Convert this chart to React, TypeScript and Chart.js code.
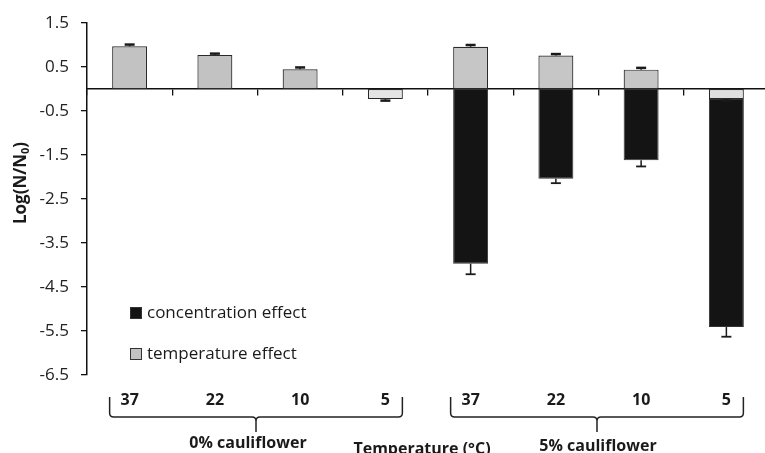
import React, { useEffect, useRef } from "react";
import { Chart, registerables } from "chart.js";

Chart.register(...registerables);

// ---- data ----
const categories = ["37", "22", "10", "5", "37", "22", "10", "5"];
const groupNames = ["0% cauliflower", "5% cauliflower"];
const xTitle = "Temperature (°C)";
const temperatureEffect = [0.97, 0.77, 0.45, -0.23, 0.96, 0.76, 0.44, -0.23];
const temperatureError = [0.04, 0.02, 0.04, 0.02, 0.04, 0.01, 0.04, 0.02];
const concentrationEffect = [null, null, null, null, -3.97, -2.04, -1.62, -5.18];
const concentrationError = [0, 0, 0, 0, 0.24, 0.1, 0.14, 0.22];
const yMin = -6.5;
const yMax = 1.5;
const yStep = 1;

const FONT = "'Open Sans', 'DejaVu Sans', sans-serif";
const grayFill = ["#c2c2c2", "#c2c2c2", "#c2c2c2", "#e4e4e4", "#c6c6c6", "#c6c6c6", "#c6c6c6", "#e0e0e0"];

const errorBars = {
  id: "errorBars",
  afterDatasetsDraw(chart: any) {
    const ctx = chart.ctx;
    const y = chart.scales.y;
    chart.data.datasets.forEach((ds: any, di: number) => {
      const errs = ds.errors;
      if (!errs) return;
      const meta = chart.getDatasetMeta(di);
      meta.data.forEach((el: any, i: number) => {
        const v = ds.data[i];
        const e = errs[i];
        if (v == null || !e) return;
        const len = Math.max(1.5, Math.abs(y.getPixelForValue(0) - y.getPixelForValue(e)));
        const dir = v >= 0 ? -1 : 1;
        const x0 = el.x;
        const y0 = el.y;
        const y1 = y0 + dir * len;
        ctx.save();
        ctx.strokeStyle = "#1a1a1a";
        ctx.lineWidth = 1.5;
        ctx.beginPath();
        ctx.moveTo(x0, y0);
        ctx.lineTo(x0, y1);
        ctx.stroke();
        ctx.lineWidth = len < 4 ? 2.5 : 1.8;
        ctx.beginPath();
        ctx.moveTo(x0 - 5, y1);
        ctx.lineTo(x0 + 5, y1);
        ctx.stroke();
        ctx.restore();
      });
    });
  },
};

const decorations = {
  id: "decorations",
  afterDraw(chart: any) {
    const ctx = chart.ctx;
    const x = chart.scales.x;
    const area = chart.chartArea;
    ctx.save();

    // y-axis title: Log(N/N0)
    ctx.fillStyle = "#1a1a1a";
    const big = `bold 17px ${FONT}`;
    const small = `bold 11px ${FONT}`;
    ctx.font = big;
    const p1 = "Log(N/N";
    const p3 = ")";
    const w1 = ctx.measureText(p1).width;
    const w3 = ctx.measureText(p3).width;
    ctx.font = small;
    const w2 = ctx.measureText("0").width;
    const total = w1 + w2 + w3;
    ctx.translate(21, 183);
    ctx.rotate(-Math.PI / 2);
    ctx.textBaseline = "middle";
    ctx.textAlign = "left";
    let cx = -total / 2;
    ctx.font = big;
    ctx.fillText(p1, cx, 0);
    cx += w1;
    ctx.font = small;
    ctx.fillText("0", cx, 5);
    cx += w2;
    ctx.font = big;
    ctx.fillText(p3, cx, 0);
    ctx.setTransform(1, 0, 0, 1, 0, 0);

    // braces and group names
    const yTop = area.bottom + 22;
    const yH = area.bottom + 42;
    const ySpike = area.bottom + 57;
    const nameOffsets = [-8, 1];
    ctx.strokeStyle = "#222";
    ctx.lineWidth = 1.5;
    groupNames.forEach((name, g) => {
      const first = g * 4;
      const last = g * 4 + 3;
      const xl = x.getPixelForValue(first) - 20;
      const xr = x.getPixelForValue(last) + 17;
      const xm = (xl + xr) / 2;
      ctx.beginPath();
      ctx.moveTo(xl, yTop);
      ctx.lineTo(xl, yH - 4);
      ctx.quadraticCurveTo(xl, yH, xl + 4, yH);
      ctx.lineTo(xm - 4, yH);
      ctx.quadraticCurveTo(xm, yH, xm, yH + 4);
      ctx.lineTo(xm, ySpike);
      ctx.moveTo(xm, yH + 4);
      ctx.quadraticCurveTo(xm, yH, xm + 4, yH);
      ctx.lineTo(xr - 4, yH);
      ctx.quadraticCurveTo(xr, yH, xr, yH - 4);
      ctx.lineTo(xr, yTop);
      ctx.stroke();

      ctx.font = `bold 16px ${FONT}`;
      ctx.textAlign = "center";
      ctx.textBaseline = "middle";
      ctx.fillStyle = "#1a1a1a";
      ctx.fillText(name, xm + nameOffsets[g], area.bottom + 68 + g * 3);
    });

    // x title
    ctx.font = `bold 16px ${FONT}`;
    ctx.textAlign = "center";
    ctx.textBaseline = "middle";
    ctx.fillText(xTitle, (area.left + area.right) / 2 - 6, area.bottom + 74);

    // legend (concentration first, then temperature)
    const order = [1, 0];
    ctx.font = `17px ${FONT}`;
    ctx.textAlign = "left";
    order.forEach((di, k) => {
      const ds = chart.data.datasets[di];
      const yc = area.bottom - 62 + k * 41;
      const sx = area.left + 43;
      const fill = Array.isArray(ds.backgroundColor) ? ds.backgroundColor[0] : ds.backgroundColor;
      ctx.fillStyle = fill;
      ctx.fillRect(sx, yc - 6, 12, 12);
      ctx.strokeStyle = "#333";
      ctx.lineWidth = 1;
      ctx.strokeRect(sx + 0.5, yc - 5.5, 11, 11);
      ctx.fillStyle = "#1a1a1a";
      ctx.textBaseline = "middle";
      ctx.fillText(ds.label, sx + 17, yc);
    });

    ctx.restore();
  },
};

export default function App() {
  const ref = useRef<HTMLCanvasElement | null>(null);

  useEffect(() => {
    if (!ref.current) return;
    const chart = new Chart(ref.current, {
      type: "bar",
      data: {
        labels: categories,
        datasets: [
          {
            label: "temperature effect",
            data: temperatureEffect,
            errors: temperatureError,
            backgroundColor: grayFill,
            borderColor: "#2a2a2a",
            borderWidth: 1.2,
            borderSkipped: false,
            barPercentage: 0.41,
            categoryPercentage: 1,
          } as any,
          {
            label: "concentration effect",
            data: concentrationEffect,
            errors: concentrationError,
            backgroundColor: "#141414",
            borderColor: "#333",
            borderWidth: 1,
            borderSkipped: false,
            barPercentage: 0.41,
            categoryPercentage: 1,
          } as any,
        ],
      },
      options: {
        responsive: false,
        animation: false,
        events: [],
        layout: { padding: { top: 23, left: 0, right: 0, bottom: 0 } },
        plugins: {
          legend: { display: false },
          tooltip: { enabled: false },
          title: { display: false },
        },
        scales: {
          x: {
            type: "category",
            stacked: true,
            offset: true,
            position: "bottom",
            grid: { display: false, drawTicks: false, offset: true },
            border: { display: false },
            ticks: {
              color: "#1a1a1a",
              font: { family: FONT, size: 16, weight: "bold" },
              padding: 16,
              maxRotation: 0,
              autoSkip: false,
            },
            afterFit(scale: any) {
              scale.height = 78;
            },
          },
          xz: {
            type: "category",
            axis: "x",
            offset: true,
            position: { y: 0 },
            grid: {
              display: true,
              drawOnChartArea: false,
              drawTicks: true,
              tickLength: 6,
              color: "#111",
              lineWidth: 1.3,
              offset: true,
            },
            border: { display: true, color: "#111", width: 1.5 },
            ticks: { display: false },
          } as any,
          y: {
            type: "linear",
            stacked: true,
            min: yMin,
            max: yMax,
            grid: {
              display: true,
              drawOnChartArea: false,
              drawTicks: true,
              tickLength: 6,
              color: "#111",
              lineWidth: 1.3,
            },
            border: { display: true, color: "#111", width: 1.5 },
            ticks: {
              stepSize: yStep,
              color: "#222",
              font: { family: FONT, size: 17 },
              padding: 12,
              callback: (v: any) => Number(v).toFixed(1),
            },
            afterFit(scale: any) {
              scale.width = 87;
            },
          },
        },
      } as any,
      plugins: [errorBars, decorations],
    });
    return () => chart.destroy();
  }, []);

  return (
    <div
      style={{
        position: "fixed",
        left: 0,
        top: 0,
        width: 765,
        height: 453,
        overflow: "hidden",
        background: "#fff",
      }}
    >
      <canvas ref={ref} width={769} height={453} style={{ display: "block" }} />
    </div>
  );
}
